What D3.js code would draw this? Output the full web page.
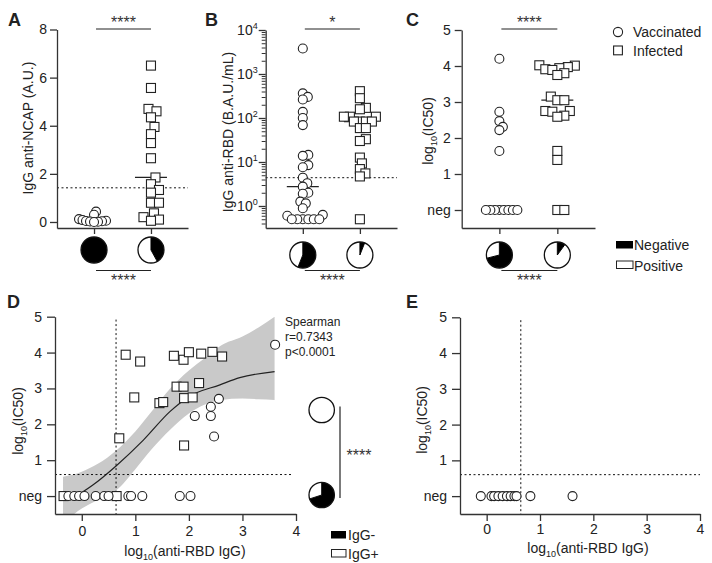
<!DOCTYPE html>
<html><head><meta charset="utf-8">
<script src="https://cdn.jsdelivr.net/npm/d3@7"></script>
<style>body{margin:0;background:#fff}svg{display:block}</style>
</head><body><svg id="c" width="712" height="563"></svg>
<script>
// ---------------- DATA ----------------
const groups = ["Vaccinated", "Infected"];
// Panel A: IgG anti-NCAP (A.U.)
const ncapVacc = [0.43, 0.3, 0.12, 0.08, 0.05, 0.04, 0.03, 0.02, 0.01, 0.0];
const ncapInf = [6.5, 5.57, 4.7, 4.6, 4.35, 3.95, 3.65, 3.28, 2.65, 1.85, 1.57, 1.33, 1.22, 0.8, 0.8, 0.36, 0.2, 0.1, 0.05];
const ncapCutoff = 1.42;
const ncapTicks = [0, 2, 4, 6, 8];
// Panel B: IgG anti-RBD (B.A.U./mL)
const rbdVacc = [3800, 363, 302, 263, 138, 100, 69, 14.5, 13.8, 8.5, 7.6, 4.4, 3.3, 2.75, 2.0, 1.9, 1.26, 1.15, 0.89, 0.63, 0.6, 0.5, 0.5, 0.5, 0.5, 0.5, 0.5];
const rbdInf = [407, 282, 170, 158, 107, 107, 107, 83, 83, 83, 83, 59, 59, 33, 30, 12.6, 9.3, 6.9, 5.5, 4.7, 0.5];
const rbdCutoff = 4.4;
const rbdTicks = [1, 10, 100, 1000, 10000];
// Panel C: log10(IC50), 0 = neg
const ic50Vacc = [4.2, 2.73, 2.47, 2.31, 2.22, 1.64, 0, 0, 0, 0, 0, 0, 0, 0];
const ic50Inf = [4.02, 4.01, 3.97, 3.94, 3.91, 3.89, 3.80, 3.75, 3.15, 3.05, 3.05, 2.75, 2.75, 2.73, 2.62, 2.59, 1.64, 1.39, 0, 0];
const ic50Ticks = [0, 1, 2, 3, 4, 5];
const ic50Labels = ["neg", "1", "2", "3", "4", "5"];
// Pie fractions (negative share) per group
const pieNegA = [1.0, 0.42];
const pieNegB = [0.56, 0.06];
const pieNegC = [0.71, 0.10];
const pieNegD = [0.0, 0.70];
// significance
const sigA = ["****", "****"], sigB = ["*", "****"], sigC = ["****", "****"], sigD = "****";
// Panel D: x = log10(anti-RBD IgG), y = log10(IC50)
const dInfX = [-0.34, 0.65, 0.70, 0.82, 1.09, 0.98, 1.45, 1.52, 1.72, 1.90, 2.0, 2.23, 2.44, 2.62, 1.77, 1.90, 2.19, 1.91, 2.07, 1.91];
const dInfY = [0, 0, 1.61, 3.94, 3.75, 2.75, 2.59, 2.62, 3.91, 3.80, 4.01, 3.97, 4.02, 3.89, 3.05, 3.05, 3.15, 2.73, 2.75, 1.41];
const dVacX = [3.61, 2.11, 2.41, 2.41, 2.56, 2.47, -0.25, -0.14, -0.05, 0.05, 0.26, 0.42, 0.5, 0.87, 0.92, 1.13, 1.83, 2.03];
const dVacY = [4.22, 2.23, 2.49, 2.23, 2.71, 1.66, 0, 0, 0, 0, 0, 0, 0, 0, 0, 0, 0, 0];
const fitX = [-0.1, 0.2, 0.64, 1.15, 1.65, 2.0, 2.58, 2.95, 3.6];
const fitY = [0.0, 0.3, 0.84, 1.56, 2.36, 2.77, 3.1, 3.3, 3.47];
const bandX = [-0.35, 0, 0.3, 0.65, 1.0, 1.3, 1.65, 2.0, 2.3, 2.6, 3.0, 3.3, 3.6];
const bandHi = [0.54, 0.68, 0.9, 1.28, 1.8, 2.35, 3.0, 3.5, 3.85, 4.2, 4.45, 4.7, 5.0];
const bandLo = [-0.75, -0.35, -0.1, 0.17, 0.75, 1.3, 1.85, 2.3, 2.55, 2.68, 2.72, 2.7, 2.68];
const spearmanText = ["Spearman", "r=0.7343", "p<0.0001"];
const dRbdCutoff = 0.64, dIcCutoff = 0.6;
const xTicksLog = [0, 1, 2, 3, 4];
// Panel E
const eX = [-0.11, 0.09, 0.14, 0.22, 0.3, 0.38, 0.45, 0.52, 0.56, 0.82, 1.61];
const eY = [0, 0, 0, 0, 0, 0, 0, 0, 0, 0, 0];

// ---------------- DRAWING ----------------
const FONT = "'Liberation Sans', Arial, Helvetica, sans-serif";
const INK = "#222";
const svg = d3.select("#c");
const R = 4.5, SQ = 9;

function styleAxis(g, fs) {
  g.selectAll("path,line").attr("stroke", "#333").attr("stroke-width", 1.3);
  g.selectAll("text").attr("font-size", fs || 14).attr("fill", INK).attr("font-family", FONT);
}
function text(x, y, s, o) {
  o = o || {};
  return svg.append("text").attr("x", x).attr("y", y).text(s)
    .attr("font-family", FONT).attr("font-size", o.fs || 14).attr("fill", INK)
    .attr("text-anchor", o.anchor || "start").attr("font-weight", o.fw || "normal");
}
function logLabel(x, y, rotate, tail) {
  const t = svg.append("text").attr("font-family", FONT).attr("font-size", 14).attr("fill", INK)
    .attr("text-anchor", "middle")
    .attr("transform", `translate(${x},${y})` + (rotate ? " rotate(-90)" : ""));
  t.append("tspan").text("log");
  t.append("tspan").attr("font-size", 9).attr("dy", 4).text("10");
  t.append("tspan").attr("dy", -4).text(tail);
}
function swarm(values, y, minDist) {
  const pts = values.map((v, i) => ({ v, py: y(v) }));
  const order = pts.slice().sort((a, b) => b.py - a.py);
  const placed = [];
  for (const p of order) {
    let off = 0;
    for (let k = 0; k < 400; k++) {
      const o = (k % 2 ? 1 : -1) * Math.ceil(k / 2) * 0.5;
      if (placed.every(q => (q.dx - o) ** 2 + (q.py - p.py) ** 2 >= minDist * minDist)) { off = o; break; }
    }
    p.dx = off; placed.push(p);
  }
  return pts;
}
function drawMarkers(g, pts, shape) {
  if (shape === "circle") {
    g.selectAll(null).data(pts).join("circle")
      .attr("cx", d => d.px).attr("cy", d => d.py).attr("r", R)
      .attr("fill", "#fff").attr("stroke", INK).attr("stroke-width", 1.1);
  } else {
    g.selectAll(null).data(pts).join("rect")
      .attr("x", d => d.px - SQ / 2).attr("y", d => d.py - SQ / 2).attr("width", SQ).attr("height", SQ)
      .attr("fill", "#fff").attr("stroke", INK).attr("stroke-width", 1.1);
  }
}
function pie(cx, cy, neg, r) {
  const g = svg.append("g").attr("transform", `translate(${cx},${cy})`);
  const arcs = d3.pie().sort(null)([neg, 1 - neg]);
  const arc = d3.arc().innerRadius(0).outerRadius(r);
  g.selectAll("path").data(arcs).join("path").attr("d", arc)
    .attr("fill", (d, i) => i === 0 ? "#000" : "#fff").attr("stroke", "none");
  if (neg > 0 && neg < 1) {
    arcs.forEach(a => {
      g.append("line").attr("x1", 0).attr("y1", 0)
        .attr("x2", r * Math.sin(a.startAngle)).attr("y2", -r * Math.cos(a.startAngle))
        .attr("stroke", "#000").attr("stroke-width", 1);
    });
  }
  g.append("circle").attr("r", r).attr("fill", "none").attr("stroke", "#111").attr("stroke-width", 1.3);
}
function stars(x, y, s, anchor) {
  return text(x, y, s, { fs: 16, anchor: anchor || "middle" }).attr("fill", "#333");
}

function columnPanel(cfg) {
  const y = cfg.y;
  const x = d3.scalePoint().domain(groups).range([cfg.x0, cfg.x1]).padding(0.65);
  const yb = y.range()[0];
  if (cfg.cutoff != null) {
    svg.append("line").attr("x1", cfg.x0).attr("x2", cfg.x1).attr("y1", y(cfg.cutoff)).attr("y2", y(cfg.cutoff))
      .attr("stroke", "#111").attr("stroke-width", 1).attr("stroke-dasharray", "2,2.5");
  }
  const gy = svg.append("g").attr("transform", `translate(${cfg.x0},0)`).call(cfg.yAxis);
  styleAxis(gy);
  if (cfg.after) cfg.after(gy);
  const gx = svg.append("g").attr("transform", `translate(0,${yb})`)
    .call(d3.axisBottom(x).tickSize(6).tickSizeOuter(0).tickFormat(""));
  styleAxis(gx);
  [cfg.vacc, cfg.inf].forEach((vals, i) => {
    const m = d3.median(vals);
    svg.append("line").attr("x1", x(groups[i]) - 16).attr("x2", x(groups[i]) + 16)
      .attr("y1", y(m)).attr("y2", y(m)).attr("stroke", INK).attr("stroke-width", 1.3);
  });
  const g = svg.append("g");
  const pv = swarm(cfg.vacc, y, cfg.dV); pv.forEach(p => p.px = x(groups[0]) + p.dx);
  const pi = swarm(cfg.inf, y, cfg.dI); pi.forEach(p => p.px = x(groups[1]) + p.dx);
  drawMarkers(g, pv, "circle");
  drawMarkers(g, pi, "square");
  const x1 = x(groups[0]) + 2, x2 = x(groups[1]);
  svg.append("line").attr("x1", x1).attr("x2", x2).attr("y1", 29).attr("y2", 29).attr("stroke", INK).attr("stroke-width", 1.2);
  stars((x1 + x2) / 2, 27.5, cfg.sig[0]);
  pie(x(groups[0]), cfg.pieY, cfg.pie[0], 13);
  pie(x(groups[1]), cfg.pieY, cfg.pie[1], 13);
  svg.append("line").attr("x1", x1).attr("x2", x2).attr("y1", 270.5).attr("y2", 270.5).attr("stroke", INK).attr("stroke-width", 1.2);
  stars((x1 + x2) / 2, 286, cfg.sig[1]);
}

// ---- Panel A
const yA = d3.scaleLinear().domain([-0.25, 8]).range([228, 29.5]);
columnPanel({
  x0: 57, x1: 188, y: yA, cutoff: ncapCutoff, vacc: ncapVacc, inf: ncapInf, dV: 3.6, dI: 8,
  yAxis: d3.axisLeft(yA).tickValues(ncapTicks).tickSize(7).tickPadding(3).tickSizeOuter(0),
  sig: sigA, pie: pieNegA, pieY: 250
});
text(0, 0, "IgG anti-NCAP (A.U.)", { anchor: "middle" }).attr("transform", "translate(33,128) rotate(-90)").attr("x", null).attr("y", null);
text(8, 26, "A", { fs: 18, fw: "bold" });

// ---- Panel B
const yB = d3.scaleLog().domain([Math.pow(10, -0.5), 1e4]).range([228, 30]);
const minorB = [];
for (let e = -1; e < 4; e++) for (let m = 2; m <= 9; m++) { const v = m * Math.pow(10, e); if (v >= yB.domain()[0] && v <= 1e4) minorB.push(v); }
columnPanel({
  x0: 265.7, x1: 397, y: yB, cutoff: rbdCutoff, vacc: rbdVacc, inf: rbdInf, dV: 5.5, dI: 6,
  yAxis: d3.axisLeft(yB).tickValues(rbdTicks).tickSize(7).tickPadding(2).tickSizeOuter(0).tickFormat(""),
  after: (g) => {
    const mg = svg.append("g").attr("transform", "translate(265.7,0)")
      .call(d3.axisLeft(yB).tickValues(minorB).tickSize(4).tickSizeOuter(0).tickFormat(""));
    styleAxis(mg); mg.select("path").remove();
    mg.selectAll("line").attr("stroke-width", 1);
    g.selectAll(".tick").each(function (d) {
      const t = d3.select(this).append("text").attr("x", -8).attr("dy", "0.32em")
        .attr("text-anchor", "end").attr("font-family", FONT).attr("font-size", 14).attr("fill", INK);
      t.append("tspan").text("10");
      t.append("tspan").attr("font-size", 9).attr("dy", -6).text(Math.round(Math.log10(d)));
    });
  },
  sig: sigB, pie: pieNegB, pieY: 255
});
text(0, 0, "IgG anti-RBD (B.A.U./mL)", { anchor: "middle" }).attr("transform", "translate(233,132) rotate(-90)").attr("x", null).attr("y", null);
text(205, 26, "B", { fs: 18, fw: "bold" });

// ---- Panel C
const yC = d3.scaleLinear().domain([-0.5, 5]).range([228, 30]);
columnPanel({
  x0: 461.7, x1: 595, y: yC, cutoff: null, vacc: ic50Vacc, inf: ic50Inf, dV: 4.5, dI: 7,
  yAxis: d3.axisLeft(yC).tickValues(ic50Ticks).tickSize(7).tickPadding(4).tickSizeOuter(0).tickFormat((d, i) => ic50Labels[i]),
  sig: sigC, pie: pieNegC, pieY: 255
});
logLabel(433, 131, true, "(IC50)");
text(406, 26, "C", { fs: 18, fw: "bold" });

// legend C
svg.append("circle").attr("cx", 618).attr("cy", 32).attr("r", 4.6).attr("fill", "#fff").attr("stroke", INK).attr("stroke-width", 1.1);
text(633, 37, "Vaccinated");
svg.append("rect").attr("x", 613.6).attr("y", 46).attr("width", 8.8).attr("height", 8.8).attr("fill", "#fff").attr("stroke", INK).attr("stroke-width", 1.1);
text(633, 55.5, "Infected");
svg.append("rect").attr("x", 616).attr("y", 241).attr("width", 17).attr("height", 7.5).attr("fill", "#000");
text(634, 250, "Negative");
svg.append("rect").attr("x", 616.5).attr("y", 261).attr("width", 16.5).attr("height", 7.5).attr("fill", "#fff").attr("stroke", INK).attr("stroke-width", 1);
text(634, 270.5, "Positive");

// ---- Scatter panels
function scatterPanel(cfg) {
  const x = d3.scaleLinear().domain([-0.5, 4]).range([cfg.x0, cfg.x1]);
  const y = d3.scaleLinear().domain([-0.5, 5]).range([514, cfg.yTop]);
  const clipId = "clip" + cfg.id;
  svg.append("clipPath").attr("id", clipId).append("rect")
    .attr("x", x(-0.5)).attr("y", y(5)).attr("width", x(4) - x(-0.5)).attr("height", y(-0.5) - y(5));
  if (cfg.band) {
    const band = bandX.map((v, i) => ({ x: v, lo: bandLo[i], hi: bandHi[i] }));
    svg.append("path").datum(band).attr("clip-path", `url(#${clipId})`)
      .attr("d", d3.area().x(d => x(d.x)).y0(d => y(d.lo)).y1(d => y(d.hi)).curve(d3.curveMonotoneX))
      .attr("fill", "#c9c9c9");
    const fit = fitX.map((v, i) => ({ x: v, y: fitY[i] }));
    svg.append("path").datum(fit).attr("d", d3.line().x(d => x(d.x)).y(d => y(d.y)).curve(d3.curveMonotoneX))
      .attr("fill", "none").attr("stroke", INK).attr("stroke-width", 1.2);
  }
  svg.append("line").attr("x1", x(-0.5)).attr("x2", x(cfg.hEnd)).attr("y1", y(dIcCutoff)).attr("y2", y(dIcCutoff))
    .attr("stroke", "#111").attr("stroke-width", 1).attr("stroke-dasharray", "2,2.5");
  svg.append("line").attr("x1", x(dRbdCutoff)).attr("x2", x(dRbdCutoff)).attr("y1", y(4.92)).attr("y2", y(-0.5))
    .attr("stroke", "#111").attr("stroke-width", 1).attr("stroke-dasharray", "2,2.5");
  const gy = svg.append("g").attr("transform", `translate(${x(-0.5)},0)`)
    .call(d3.axisLeft(y).tickValues(ic50Ticks).tickSize(8).tickPadding(5).tickSizeOuter(0).tickFormat((d, i) => ic50Labels[i]));
  styleAxis(gy);
  const gx = svg.append("g").attr("transform", `translate(0,${y(-0.5)})`)
    .call(d3.axisBottom(x).tickValues(xTicksLog).tickSize(7).tickPadding(cfg.tp).tickSizeOuter(0).tickFormat(d3.format("d")));
  styleAxis(gx);
  const g = svg.append("g");
  if (cfg.inf) drawMarkers(g, cfg.inf.x.map((v, i) => ({ px: x(v), py: y(cfg.inf.y[i]) })), "square");
  drawMarkers(g, cfg.vac.x.map((v, i) => ({ px: x(v), py: y(cfg.vac.y[i]) })), "circle");
  return { x, y };
}

scatterPanel({ id: "D", x0: 55, x1: 296, yTop: 316.7, band: true, hEnd: 3.95, tp: 5,
  inf: { x: dInfX, y: dInfY }, vac: { x: dVacX, y: dVacY } });
logLabel(23, 421, true, "(IC50)");
logLabel(185, 556, false, "(anti-RBD IgG)");
text(7, 308, "D", { fs: 18, fw: "bold" });
spearmanText.forEach((s, i) => text(285, 326 + i * 15, s, { fs: 12 }));
pie(321.7, 410, pieNegD[0], 12.7);
pie(321.7, 495, pieNegD[1], 12.7);
svg.append("line").attr("x1", 340).attr("x2", 340).attr("y1", 406.5).attr("y2", 498).attr("stroke", INK).attr("stroke-width", 1.2);
stars(346.5, 461, sigD, "start");
svg.append("rect").attr("x", 331).attr("y", 531).attr("width", 15).attr("height", 7.5).attr("fill", "#000");
text(348, 540, "IgG-");
svg.append("rect").attr("x", 331.5).attr("y", 549.5).attr("width", 14.5).attr("height", 7.5).attr("fill", "#fff").attr("stroke", INK).attr("stroke-width", 1);
text(348, 559, "IgG+");

scatterPanel({ id: "E", x0: 460, x1: 700, yTop: 317.3, band: false, hEnd: 4, tp: 3,
  inf: null, vac: { x: eX, y: eY } });
logLabel(427, 420, true, "(IC50)");
logLabel(588, 553, false, "(anti-RBD IgG)");
text(406, 308, "E", { fs: 18, fw: "bold" });
</script></body></html>
